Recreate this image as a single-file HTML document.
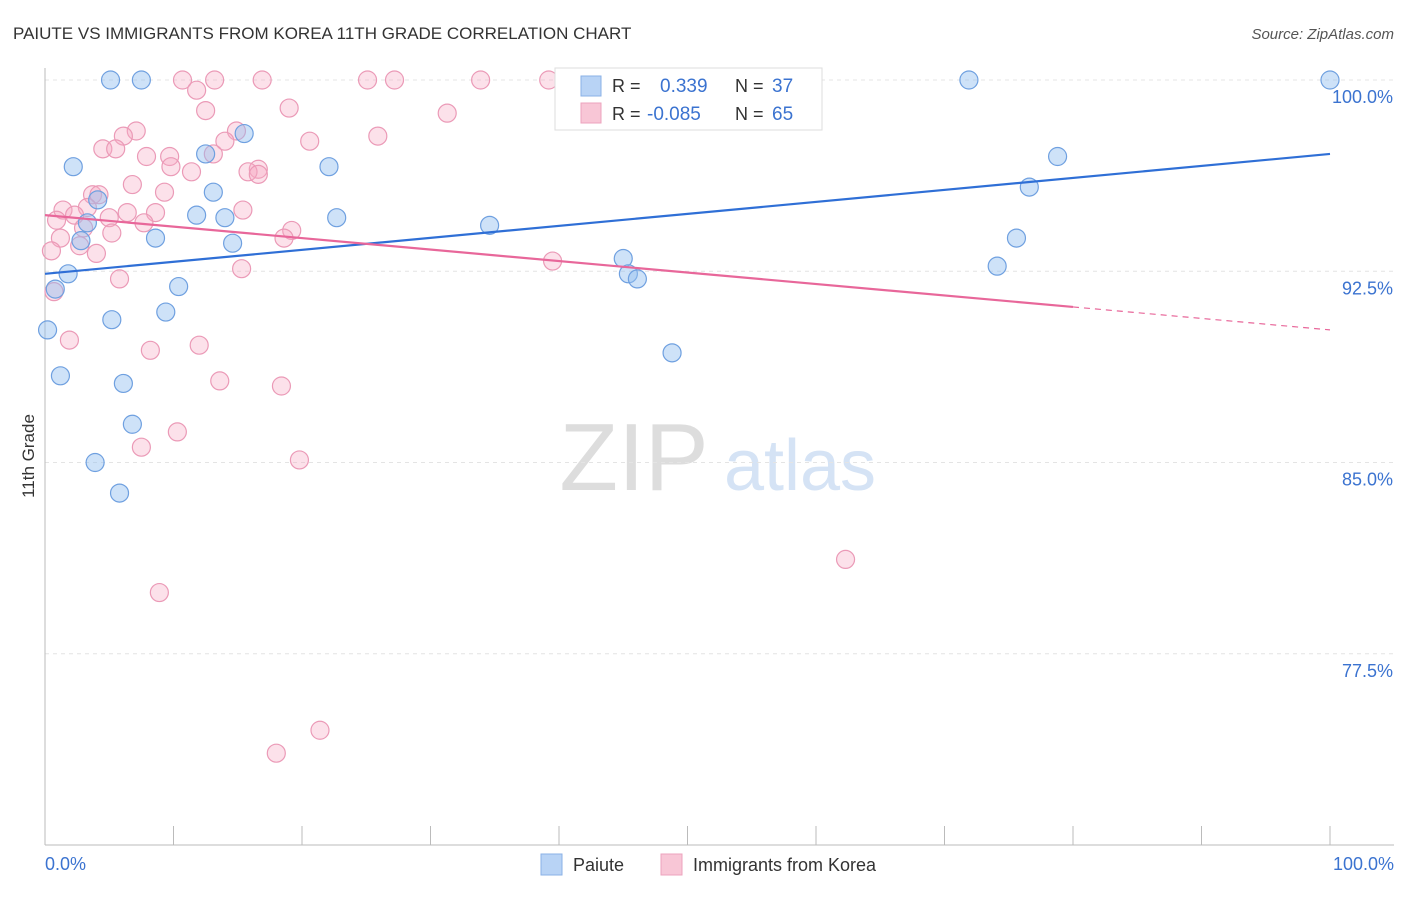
<!DOCTYPE html>
<html><head><meta charset="utf-8"><style>
body{margin:0;background:#fff;font-family:"Liberation Sans",sans-serif;}
svg text{font-family:"Liberation Sans",sans-serif;}
</style></head><body>
<svg id="chart" width="1406" height="892" xmlns="http://www.w3.org/2000/svg">
<text x="13" y="39" font-size="17" fill="#333">PAIUTE VS IMMIGRANTS FROM KOREA 11TH GRADE CORRELATION CHART</text>
<text x="1394" y="39" font-size="15" fill="#555" text-anchor="end" font-style="italic">Source: ZipAtlas.com</text>
<text x="34" y="456" font-size="17" fill="#333" text-anchor="middle" transform="rotate(-90 34 456)">11th Grade</text>
<g>
<text x="634" y="490" font-size="96" fill="#ddd" text-anchor="middle" font-family="Liberation Serif">ZIP</text>
<text x="800" y="490" font-size="72" fill="#d5e3f5" text-anchor="middle">atlas</text>
</g>
<g id="grid"></g>
<g id="axes"></g>
<g id="points"></g>
<g id="trends"></g>
<g>
<rect x="555" y="68" width="267" height="62" fill="#fff" stroke="#ddd"/>
<rect x="581" y="76" width="20" height="20" fill="#b8d3f5" stroke="#8ab0e6"/>
<text x="612" y="92" font-size="18" fill="#333">R =</text>
<text x="660" y="92" font-size="19" fill="#3b73d0">0.339</text>
<text x="735" y="92" font-size="18" fill="#333">N =</text>
<text x="772" y="92" font-size="19" fill="#3b73d0">37</text>
<rect x="581" y="103" width="20" height="20" fill="#f8c6d6" stroke="#eca3bd"/>
<text x="612" y="120" font-size="18" fill="#333">R =</text>
<text x="647" y="120" font-size="19" fill="#3b73d0">-0.085</text>
<text x="735" y="120" font-size="18" fill="#333">N =</text>
<text x="772" y="120" font-size="19" fill="#3b73d0">65</text>
</g>
<g>
<rect x="541" y="854" width="21" height="21" fill="#b8d3f5" stroke="#8ab0e6"/>
<text x="573" y="871" font-size="18" fill="#333">Paiute</text>
<rect x="661" y="854" width="21" height="21" fill="#f8c6d6" stroke="#eca3bd"/>
<text x="693" y="871" font-size="18" fill="#333">Immigrants from Korea</text>
</g>
</svg>
<script>
const xTickLabels=["0.0%","100.0%"];
const yTicks=[100,92.5,85,77.5];
const yTickLabels=["100.0%","92.5%","85.0%","77.5%"];
const paiuteX=[5.1,7.5,71.9,100,15.5,12.5,2.2,22.1,78.8,76.6,13.1,4.1,11.8,14.0,22.7,3.3,34.6,2.8,8.6,14.6,75.6,1.8,0.8,10.4,45.0,45.4,46.1,74.1,9.4,5.2,0.2,48.8,1.2,6.1,6.8,3.9,5.8];
const paiuteY=[100,100,100,100,97.9,97.1,96.6,96.6,97.0,95.8,95.6,95.3,94.7,94.6,94.6,94.4,94.3,93.7,93.8,93.6,93.8,92.4,91.8,91.9,93.0,92.4,92.2,92.7,90.9,90.6,90.2,89.3,88.4,88.1,86.5,85.0,83.8];
const koreaX=[10.7,13.2,16.9,25.1,27.2,33.9,39.2,11.8,19.0,12.5,31.3,7.1,14.9,6.1,25.9,14.0,20.6,4.5,5.5,7.9,13.1,9.7,9.8,16.6,11.4,15.8,16.6,6.8,9.3,3.7,4.2,1.4,3.3,6.4,8.6,15.4,2.3,5.0,7.7,0.9,5.2,3.0,19.2,1.2,18.6,2.7,0.5,4.0,15.3,39.5,5.8,0.7,1.9,8.2,12.0,13.6,18.4,10.3,7.5,19.8,62.3,8.9,21.4,18.0];
const koreaY=[100,100,100,100,100,100,100,99.6,98.9,98.8,98.7,98.0,98.0,97.8,97.8,97.6,97.6,97.3,97.3,97.0,97.1,97.0,96.6,96.5,96.4,96.4,96.3,95.9,95.6,95.5,95.5,94.9,95.0,94.8,94.8,94.9,94.7,94.6,94.4,94.5,94.0,94.2,94.1,93.8,93.8,93.5,93.3,93.2,92.6,92.9,92.2,91.7,89.8,89.4,89.6,88.2,88.0,86.2,85.6,85.1,81.2,79.9,74.5,73.6];
const paiuteTrend=[92.4,97.1];
const koreaTrend=[94.7,90.2];
const NS="http://www.w3.org/2000/svg";
function sx(v){return 45+v*12.85;}
function sy(v){return 80+(100-v)*25.5;}
function mk(tag,attrs,parent){const e=document.createElementNS(NS,tag);for(const k in attrs)e.setAttribute(k,attrs[k]);parent.appendChild(e);return e;}
const grid=document.getElementById('grid'),axes=document.getElementById('axes');
yTicks.forEach((t,i)=>{
  const l=mk('line',{x1:45,x2:1394,y1:sy(t),y2:sy(t),stroke:'#e4e4e4','stroke-dasharray':'4,4'},grid);
  
  
  const tx=mk('text',{x:1393,y:sy(t)+23,'font-size':18,fill:'#3b73d0','text-anchor':'end'},axes);
  tx.textContent=yTickLabels[i];
  
  
});
const xa=mk('line',{x1:45,x2:1394,y1:845,y2:845,stroke:'#bbb'},axes);


const ya=mk('line',{x1:45,x2:45,y1:68,y2:845,stroke:'#bbb'},axes);


for(let i=0;i<=10;i++){
  const t=mk('line',{x1:sx(i*10),x2:sx(i*10),y1:826,y2:845,stroke:'#bbb'},axes);
  
  
}
[[0,45,'start'],[100,1394,'end']].forEach((d,i)=>{
  const t=mk('text',{x:d[1],y:870,'font-size':18,fill:'#3b73d0','text-anchor':d[2]},axes);
  t.textContent=xTickLabels[i];
  
  
});
const pts=document.getElementById('points');
koreaX.forEach((x,i)=>{
  const c=mk('circle',{cx:sx(x),cy:sy(koreaY[i]),r:9,fill:'rgba(245,170,195,0.35)',stroke:'#eb9ab7','stroke-width':1.2},pts);
  
  
});
paiuteX.forEach((x,i)=>{
  const c=mk('circle',{cx:sx(x),cy:sy(paiuteY[i]),r:9,fill:'rgba(147,190,240,0.45)',stroke:'#6fa0e0','stroke-width':1.2},pts);
  
  
});
const tr=document.getElementById('trends');
const bl=mk('line',{x1:sx(0),y1:sy(paiuteTrend[0]),x2:sx(100),y2:sy(paiuteTrend[1]),stroke:'#2f6fd6','stroke-width':2.2},tr);


const kEnd=80,kMid=koreaTrend[0]+(koreaTrend[1]-koreaTrend[0])*kEnd/100;
const pl=mk('line',{x1:sx(0),y1:sy(koreaTrend[0]),x2:sx(kEnd),y2:sy(kMid),stroke:'#e8679a','stroke-width':2.2},tr);


const pd=mk('line',{x1:sx(kEnd),y1:sy(kMid),x2:sx(100),y2:sy(koreaTrend[1]),stroke:'#e8679a','stroke-width':1.2,'stroke-dasharray':'6,5'},tr);


</script>
</body></html>
